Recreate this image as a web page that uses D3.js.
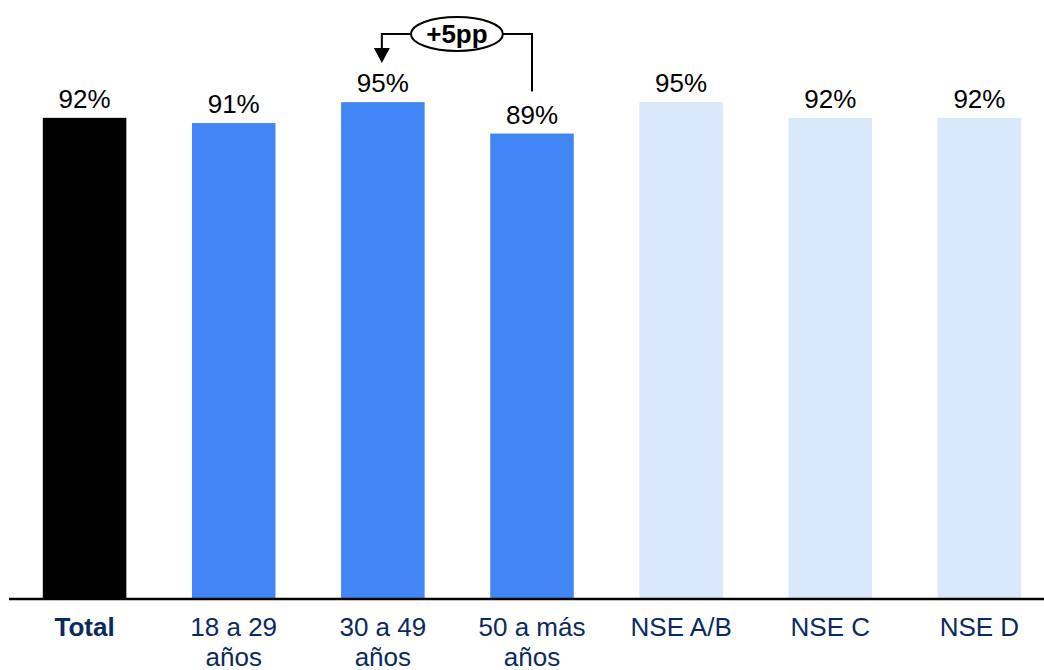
<!DOCTYPE html>
<html>
<head>
<meta charset="utf-8">
<script src="https://cdn.jsdelivr.net/npm/d3@7/dist/d3.min.js"></script>
<style>
  html, body { margin: 0; padding: 0; background: #fff; }
  svg { display: block; font-family: "Liberation Sans", Arial, sans-serif; }
</style>
</head>
<body>
<svg id="chart" width="1044" height="670"></svg>
<script>
// Categories (each label split into lines) and values
const categories = ["Total", "18 a 29 años", "30 a 49 años", "50 a más años", "NSE A/B", "NSE C", "NSE D"];
const categoryLines = [["Total"], ["18 a 29", "años"], ["30 a 49", "años"], ["50 a más", "años"], ["NSE A/B"], ["NSE C"], ["NSE D"]];
const values = [92, 91, 95, 89, 95, 92, 92];
const barColors = ["#000000", "#4285F4", "#4285F4", "#4285F4", "#DAE8FC", "#DAE8FC", "#DAE8FC"];
const boldLabel = [true, false, false, false, false, false, false];
const annotationText = "+5pp";

const svg = d3.select("#chart");
const W = 1044, H = 670;
const baseline = 599;

const x = d3.scaleBand()
  .domain(categories)
  .range([10, 1054])
  .paddingInner(0.44)
  .paddingOuter(0.22);

const y = d3.scaleLinear().domain([0, 100]).range([baseline, 76]);

const data = categories.map((c, i) => ({ c, v: values[i], color: barColors[i], lines: categoryLines[i], bold: boldLabel[i] }));

// Bars
svg.append("g").selectAll("rect")
  .data(data)
  .join("rect")
  .attr("x", d => x(d.c))
  .attr("y", d => y(d.v))
  .attr("width", x.bandwidth())
  .attr("height", d => y(0) - y(d.v))
  .attr("fill", d => d.color);

// Value labels
svg.append("g").selectAll("text")
  .data(data)
  .join("text")
  .attr("x", d => x(d.c) + x.bandwidth() / 2)
  .attr("y", d => y(d.v) - 10)
  .attr("text-anchor", "middle")
  .attr("font-size", 26)
  .attr("fill", "#000")
  .text(d => d.v + "%");

// Baseline axis
const xAxis = d3.axisBottom(x).tickSize(0).tickFormat("");
const axisG = svg.append("g")
  .attr("transform", `translate(0,${baseline})`)
  .call(xAxis);
axisG.select(".domain").remove();
axisG.append("line")
  .attr("x1", 9).attr("x2", W)
  .attr("y1", 0).attr("y2", 0)
  .attr("stroke", "#000").attr("stroke-width", 2.5);

// Category labels
const catG = svg.append("g").selectAll("text")
  .data(data)
  .join("text")
  .attr("x", d => x(d.c) + x.bandwidth() / 2)
  .attr("y", 636)
  .attr("text-anchor", "middle")
  .attr("font-size", 26)
  .attr("font-weight", d => d.bold ? "bold" : "normal")
  .attr("fill", "#0B2A5E");
catG.selectAll("tspan")
  .data(d => d.lines.map(l => ({ l, cx: x(d.c) + x.bandwidth() / 2 })))
  .join("tspan")
  .attr("x", t => t.cx)
  .attr("dy", (t, i) => i === 0 ? 0 : 30)
  .text(t => t.l);

// Difference annotation between "30 a 49 años" and "50 a más años"
const fromCat = categories[3], toCat = categories[2];
const xFrom = x(fromCat) + x.bandwidth() / 2;
const xTo = x(toCat) + x.bandwidth() / 2 - 1;
const ex = (xFrom + xTo) / 2, ey = 34;
const rx = 46, ry = 17;
const ann = svg.append("g").attr("stroke", "#000").attr("stroke-width", 2).attr("fill", "none");
ann.append("path")
  .attr("d", `M${ex + rx},${ey} H${xFrom} V${y(values[3]) - 42}`);
ann.append("path")
  .attr("d", `M${ex - rx},${ey} H${xTo} V${49}`);
svg.append("path")
  .attr("d", `M${xTo - 8},${48} L${xTo + 8},${48} L${xTo},${63} Z`)
  .attr("fill", "#000");
svg.append("ellipse")
  .attr("cx", ex).attr("cy", ey).attr("rx", rx).attr("ry", ry)
  .attr("fill", "#fff").attr("stroke", "#000").attr("stroke-width", 2);
svg.append("text")
  .attr("x", ex).attr("y", ey + 9)
  .attr("text-anchor", "middle")
  .attr("font-size", 26)
  .attr("font-weight", "bold")
  .attr("fill", "#000")
  .text(annotationText);
</script>
</body>
</html>
